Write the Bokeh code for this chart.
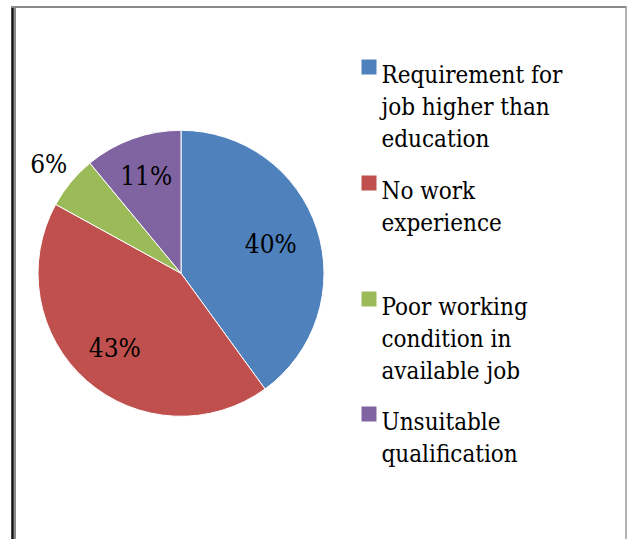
import math
from bokeh.plotting import figure
from bokeh.models import Range1d
from bokeh.core.properties import value
from bokeh.embed import file_html
from bokeh.resources import INLINE

# ---- data ----
categories = ["Requirement for job higher than education",
              "No work experience",
              "Poor working condition in available job",
              "Unsuitable qualification"]
legend_lines = [["Requirement for", "job higher than", "education"],
                ["No work", "experience"],
                ["Poor working", "condition in", "available job"],
                ["Unsuitable", "qualification"]]
shares = [40, 43, 6, 11]
labels = ["40%", "43%", "6%", "11%"]
colors = ["#4F81BD", "#C0504D", "#9BBB59", "#8064A2"]

# ---- layout (pixels, y measured from top) ----
W, H = 628, 539
CX, CY, R = 180.5, 272.8, 143
label_frac = [0.66, 0.70, 1.20, 0.72]
FONT = value("DejaVu Serif Condensed")
FS_LABEL = "26px"
FS_LEGEND = "24px"
leg_sq_x, leg_sq = 368.5, 15
leg_text_x = 381
leg_first_baseline = [74, 190, 306, 421]
leg_line_step = 32

def Y(v):
    return H - v

p = figure(width=W, height=H, output_backend="svg", toolbar_location=None,
           x_range=Range1d(0, W), y_range=Range1d(0, H),
           min_border=0, min_border_left=0, min_border_right=0,
           min_border_top=0, min_border_bottom=0)
p.axis.visible = False
p.grid.visible = False
p.outline_line_color = None
p.background_fill_color = "white"
p.border_fill_color = "white"

# frame
p.line([12, 12], [Y(6), Y(539)], line_color="#111111", line_width=2.5)
p.line([14.5, 14.5], [Y(7), Y(539)], line_color="#8a8a8a", line_width=2)
p.line([11, 626], [Y(6.5), Y(6.5)], line_color="#8a8a8a", line_width=2)
p.line([625.5, 625.5], [Y(6), Y(539)], line_color="#9a9a9a", line_width=1.5)

# pie
total = float(sum(shares))
starts, ends, mids = [], [], []
acc = 0.0
for s in shares:
    a0 = math.pi / 2 - 2 * math.pi * acc / total
    a1 = a0 - 2 * math.pi * s / total
    starts.append(a0)
    ends.append(a1)
    mids.append((a0 + a1) / 2)
    acc += s

p.wedge(x=[CX] * len(shares), y=[Y(CY)] * len(shares), radius=R,
        start_angle=starts, end_angle=ends, direction="clock",
        fill_color=colors, line_color="white", line_width=1)

lx = [CX + f * R * math.cos(m) for f, m in zip(label_frac, mids)]
ly = [Y(CY) + f * R * math.sin(m) for f, m in zip(label_frac, mids)]
p.text(x=lx, y=ly, text=labels, text_font=FONT, text_font_size=FS_LABEL,
       text_color="black", text_align="center", text_baseline="middle")

# legend
sq_x, sq_y, tx, ty, tt = [], [], [], [], []
for i, lines in enumerate(legend_lines):
    b0 = leg_first_baseline[i]
    sq_x.append(leg_sq_x)
    sq_y.append(Y(b0 - 7.5))
    for j, ln in enumerate(lines):
        tx.append(leg_text_x)
        ty.append(Y(b0 + j * leg_line_step))
        tt.append(ln)
p.rect(x=sq_x, y=sq_y, width=leg_sq, height=leg_sq, fill_color=colors,
       line_color=None)
p.text(x=tx, y=ty, text=tt, text_font=FONT, text_font_size=FS_LEGEND,
       text_color="black", text_align="left", text_baseline="alphabetic")

open("out.html", "w").write(file_html(p, INLINE))
